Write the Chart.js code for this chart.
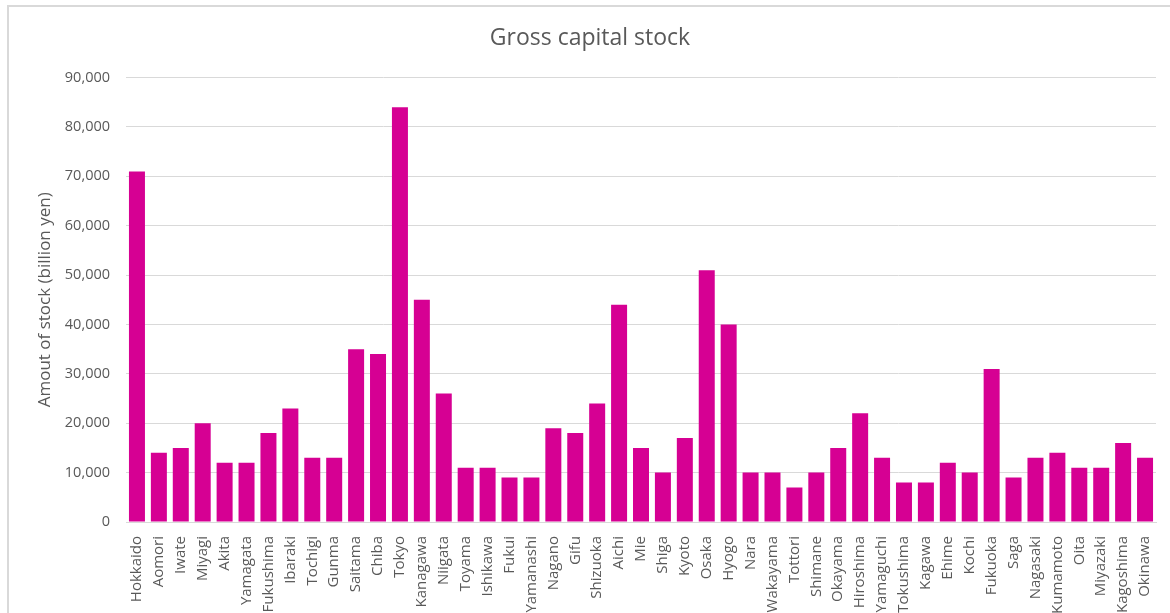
<!DOCTYPE html>
<html>
<head>
<meta charset="utf-8">
<script src="https://cdn.jsdelivr.net/npm/chart.js@4.4.0/dist/chart.umd.min.js"></script>
<style>
  html, body { margin: 0; padding: 0; background: #fff; overflow: hidden; }
  #wrap { position: relative; width: 1170px; height: 613px; }
  #frame { position: absolute; left: 7px; top: 5px; width: 1300px; height: 800px; border: 2px solid #d9d9d9; box-sizing: border-box; pointer-events: none; }
  canvas { position: absolute; left: 0; top: 0; }
</style>
</head>
<body>
<div id="wrap">
  <div id="frame"></div>
  <canvas id="chart" width="1170" height="613"></canvas>
</div>
<script>
// prefectures, in chart order
const prefectures = [
  'Hokkaido', 'Aomori', 'Iwate', 'Miyagi', 'Akita', 'Yamagata', 'Fukushima', 'Ibaraki',
  'Tochigi', 'Gunma', 'Saitama', 'Chiba', 'Tokyo', 'Kanagawa', 'Niigata', 'Toyama',
  'Ishikawa', 'Fukui', 'Yamanashi', 'Nagano', 'Gifu', 'Shizuoka', 'Aichi', 'Mie',
  'Shiga', 'Kyoto', 'Osaka', 'Hyogo', 'Nara', 'Wakayama', 'Tottori', 'Shimane',
  'Okayama', 'Hiroshima', 'Yamaguchi', 'Tokushima', 'Kagawa', 'Ehime', 'Kochi', 'Fukuoka',
  'Saga', 'Nagasaki', 'Kumamoto', 'Oita', 'Miyazaki', 'Kagoshima', 'Okinawa'
];

// gross capital stock, billion yen
const stock = [
  71000, 14000, 15000, 20000, 12000, 12000, 18000, 23000,
  13000, 13000, 35000, 34000, 84000, 45000, 26000, 11000,
  11000, 9000, 9000, 19000, 18000, 24000, 44000, 15000,
  10000, 17000, 51000, 40000, 10000, 10000, 7000, 10000,
  15000, 22000, 13000, 8000, 8000, 12000, 10000, 31000,
  9000, 13000, 14000, 11000, 11000, 16000, 13000
];

const yMin = 0;
const yMax = 90000;
const yStep = 10000;

const textColor = '#595959';
const fontFamily = "'Open Sans', 'Noto Sans', sans-serif";

new Chart(document.getElementById('chart').getContext('2d'), {
  type: 'bar',
  data: {
    labels: prefectures,
    datasets: [{
      label: 'Gross capital stock',
      data: stock,
      backgroundColor: '#d60093',
      borderWidth: 0,
      categoryPercentage: 1,
      barPercentage: 0.73
    }]
  },
  options: {
    responsive: false,
    animation: false,
    layout: { padding: { left: 24, right: 14, top: 0, bottom: 0 } },
    plugins: {
      legend: { display: false },
      tooltip: { enabled: false },
      title: {
        display: true,
        text: 'Gross capital stock',
        color: textColor,
        font: { family: fontFamily, size: 23, weight: 'normal' },
        padding: { top: 25, bottom: 25 }
      }
    },
    scales: {
      x: {
        grid: { display: false },
        border: { display: true, color: '#d9d9d9', width: 1 },
        ticks: {
          color: textColor,
          font: { family: fontFamily, size: 15 },
          minRotation: 90,
          maxRotation: 90,
          autoSkip: false,
          padding: 6
        },
        afterFit: (scale) => { scale.height = 91; }
      },
      y: {
        min: yMin,
        max: yMax,
        border: { display: false },
        grid: { color: '#d9d9d9', lineWidth: 1, drawTicks: false },
        ticks: {
          stepSize: yStep,
          color: textColor,
          font: { family: fontFamily, size: 14.5 },
          padding: 16,
          callback: (v) => v.toLocaleString('en-US')
        },
        title: {
          display: true,
          text: 'Amout of stock (billion yen)',
          color: textColor,
          font: { family: fontFamily, size: 17 },
          padding: { top: 11, bottom: 0 }
        },
        afterFit: (scale) => { scale.width = 102; }
      }
    }
  }
});
</script>
</body>
</html>
